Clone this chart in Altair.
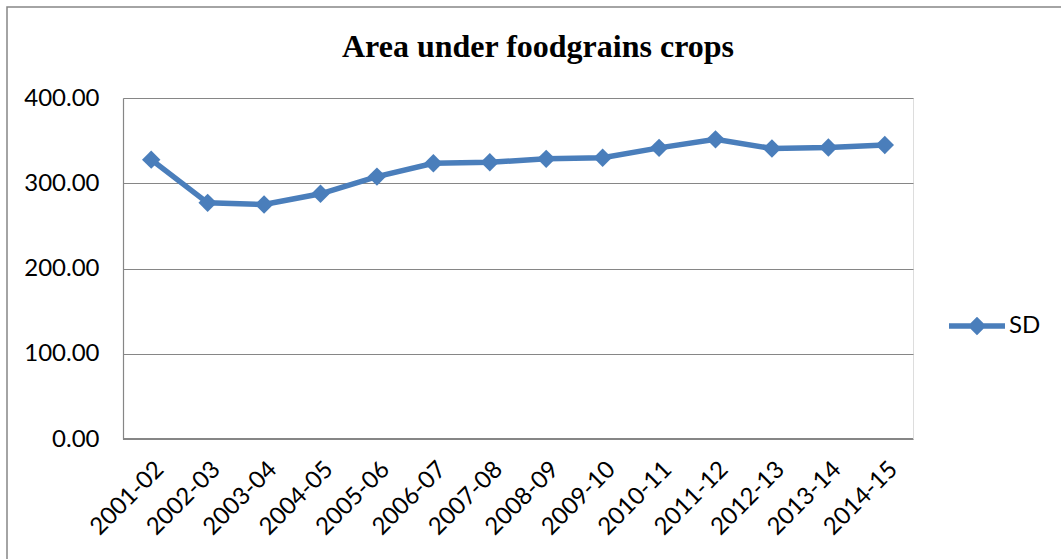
import altair as alt
import pandas as pd

# Area under foodgrains crops, by crop year
years = ["2001-02", "2002-03", "2003-04", "2004-05", "2005-06", "2006-07", "2007-08",
         "2008-09", "2009-10", "2010-11", "2011-12", "2012-13", "2013-14", "2014-15"]
area = [327.7, 277.0, 275.0, 287.6, 307.8, 323.4, 324.6,
        328.6, 330.0, 341.5, 351.5, 340.8, 342.0, 344.9]
series_name = "SD"
y_ticks = [0, 100, 200, 300, 400]
chart_title = "Area under foodgrains crops"

BLUE = "#4a7ebb"
GRID = "#868686"
LABEL_FONT = "Lato"

df = pd.DataFrame({"year": years, "area": area, "series": [series_name] * len(years)})

W, H = 790, 341

x_enc = alt.X(
    "year:N",
    sort=years,
    scale=alt.Scale(type="point", padding=0.5),
    axis=alt.Axis(
        title=None, labelAngle=-45, labelAlign="right", labelBaseline="top",
        labelPadding=18, tickSize=0, domain=False, grid=False,
        labelFont=LABEL_FONT, labelFontSize=24, labelColor="#000000",
    ),
)
y_enc = alt.Y(
    "area:Q",
    scale=alt.Scale(domain=[0, 400], nice=False),
    axis=alt.Axis(
        title=None, values=y_ticks, format=".2f", grid=True, gridColor=GRID,
        gridWidth=1.2, domain=True, domainColor=GRID, domainWidth=1.2, tickSize=0,
        labelPadding=24, labelFont=LABEL_FONT, labelFontSize=24, labelColor="#000000",
    ),
)

base = alt.Chart(df)

# x-axis baseline along y = 0
baseline = base.mark_rule(color=GRID, strokeWidth=1.2).encode(
    x=alt.value(0), x2=alt.value(W), y=alt.datum(0)
)

line = base.mark_line(color=BLUE, strokeWidth=5.5).encode(x=x_enc, y=y_enc)

# legend symbol: short thick stroke with a diamond in the middle
legend_symbol = ("M-1,-0.095L1,-0.095L1,0.095L-1,0.095Z "
                 "M0,-0.33L0.33,0L0,0.33L-0.33,0Z")

points = base.mark_point(filled=True, shape="diamond", size=340, opacity=1).encode(
    x=x_enc,
    y=y_enc,
    color=alt.Color(
        "series:N",
        scale=alt.Scale(range=[BLUE]),
        legend=alt.Legend(
            title=None, orient="none", legendX=826, legendY=200,
            symbolType=legend_symbol, symbolSize=3136, symbolStrokeWidth=0,
            symbolOpacity=1, labelFont=LABEL_FONT, labelFontSize=24,
            labelColor="#000000", labelOffset=4,
        ),
    ),
)

# outer chart frame
frame = alt.Chart(alt.Data(values=[{}])).mark_rect(
    filled=False, stroke=GRID, strokeWidth=1.5
).encode(
    x=alt.value(-116), x2=alt.value(960), y=alt.value(-91), y2=alt.value(500)
)

# chart heading, centred over the plot
heading = alt.Chart(alt.Data(values=[{"t": chart_title}])).mark_text(
    font="Liberation Serif", fontSize=32, fontWeight="bold", color="#000000",
    align="center", baseline="alphabetic",
).encode(text="t:N", x=alt.value(415), y=alt.value(-41))

chart = alt.layer(frame, baseline, line, points, heading).properties(
    width=W,
    height=H,
    autosize=alt.AutoSizeParams(type="none"),
    padding={"left": 123, "top": 98, "right": 148, "bottom": 120},
).configure_view(stroke=None).configure(background="white")

chart.save("out.html", embed_options={"renderer": "svg", "actions": False})
